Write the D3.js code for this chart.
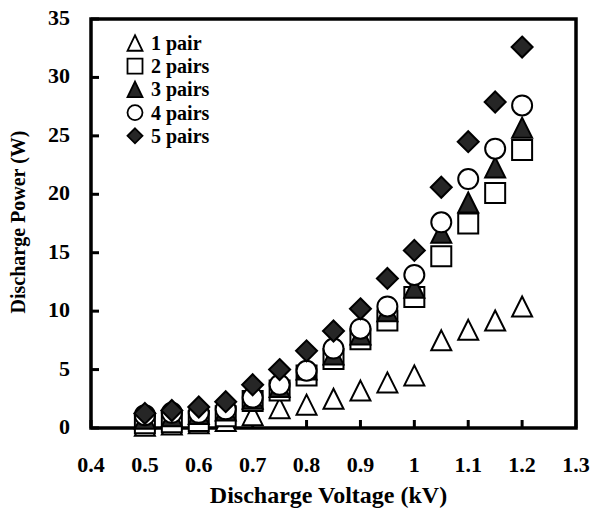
<!DOCTYPE html>
<html>
<head>
<meta charset="utf-8">
<script src="https://cdn.jsdelivr.net/npm/d3@7"></script>
<style>
  body { margin: 0; background: #fff; }
  text { font-family: "Liberation Serif", "Times New Roman", serif; font-weight: bold; }
</style>
</head>
<body>
<svg class="chart"></svg>
<script>
// voltage values (kV)
var voltage = [0.5, 0.55, 0.6, 0.65, 0.7, 0.75, 0.8, 0.85, 0.9, 0.95, 1.0, 1.05, 1.1, 1.15, 1.2];
// discharge power (W) per number of electrode pairs
var pair1 = [0.2, 0.3, 0.4, 0.6, 1.1, 1.7, 2.0, 2.5, 3.2, 3.9, 4.5, 7.5, 8.4, 9.2, 10.4];
var pair2 = [0.4, 0.5, 0.6, 1.0, 2.3, 3.2, 4.5, 5.9, 7.6, 9.2, 11.2, 14.7, 17.5, 20.1, 23.8];
var pair3 = [0.8, 1.0, 1.2, 1.5, 2.5, 3.5, 5.0, 6.3, 8.0, 10.0, 12.0, 16.7, 19.3, 22.3, 25.7];
var pair4 = [1.1, 1.3, 1.3, 1.6, 2.6, 3.7, 4.9, 6.8, 8.5, 10.4, 13.1, 17.6, 21.3, 23.9, 27.6];
var pair5 = [1.25, 1.5, 1.8, 2.25, 3.7, 5.0, 6.6, 8.3, 10.2, 12.8, 15.2, 20.6, 24.5, 27.9, 32.6];
var seriesNames = ["1 pair", "2 pairs", "3 pairs", "4 pairs", "5 pairs"];
var xTicks = [0.4, 0.5, 0.6, 0.7, 0.8, 0.9, 1, 1.1, 1.2, 1.3];
var yTicks = [0, 5, 10, 15, 20, 25, 30, 35];

var W = 593, H = 512;
var margin = {top: 19, right: 17, bottom: 84, left: 91},
    width = W - margin.left - margin.right,
    height = H - margin.top - margin.bottom;

var svg = d3.select(".chart").attr("width", W).attr("height", H);
var g = svg.append("g").attr("transform", "translate(" + margin.left + "," + margin.top + ")");

var x = d3.scaleLinear().domain([0.4, 1.3]).range([0, width]);
var y = d3.scaleLinear().domain([0, 35]).range([height, 0]);

// custom marker shapes, r = half width
function tri(r) {
  var h = r * 1.8;
  return "M0," + (-h / 2 - 1) + "L" + r + "," + (h / 2 + 1) + "L" + (-r) + "," + (h / 2 + 1) + "Z";
}
function sq(r) { return "M" + (-r) + "," + (-r) + "h" + (2 * r) + "v" + (2 * r) + "h" + (-2 * r) + "Z"; }
function circ(r) { return d3.arc()({innerRadius: 0, outerRadius: r, startAngle: 0, endAngle: 2 * Math.PI}); }
function dia(r) { return "M0," + (-r) + "L" + r + ",0L0," + r + "L" + (-r) + ",0Z"; }

var dark = "#262626";
var styles = [
  {shape: tri, fill: "#fff"},
  {shape: sq, fill: "#fff"},
  {shape: tri, fill: dark},
  {shape: circ, fill: "#fff"},
  {shape: dia, fill: dark}
];
var allSeries = [pair1, pair2, pair3, pair4, pair5];

// frame
g.append("rect").attr("width", width).attr("height", height)
  .attr("fill", "none").attr("stroke", "#000").attr("stroke-width", 3.5);

// ticks, inward
g.selectAll(".xt").data(xTicks).enter().append("line")
  .attr("x1", function(d) { return x(d); }).attr("x2", function(d) { return x(d); })
  .attr("y1", height).attr("y2", height - 8).attr("stroke", "#000").attr("stroke-width", 3);
g.selectAll(".yt").data(yTicks).enter().append("line")
  .attr("x1", 0).attr("x2", 8)
  .attr("y1", function(d) { return y(d); }).attr("y2", function(d) { return y(d); })
  .attr("stroke", "#000").attr("stroke-width", 3);

// tick labels
g.selectAll(".xl").data(xTicks).enter().append("text")
  .attr("x", function(d) { return x(d); }).attr("y", height + 44)
  .attr("text-anchor", "middle").attr("font-size", 22)
  .text(function(d) { return d; });
g.selectAll(".yl").data(yTicks).enter().append("text")
  .attr("x", -21).attr("y", function(d) { return y(d) + 6; })
  .attr("text-anchor", "end").attr("font-size", 22)
  .text(function(d) { return d; });

// axis titles
g.append("text").attr("x", width / 2 - 5).attr("y", height + 75)
  .attr("text-anchor", "middle").attr("font-size", 24).text("Discharge Voltage (kV)");
svg.append("text").attr("transform", "translate(25," + (margin.top + 203) + ") rotate(-90)")
  .attr("text-anchor", "middle").attr("font-size", 20).text("Discharge Power (W)");

// markers
allSeries.forEach(function(vals, i) {
  var st = styles[i];
  g.selectAll(".s" + i).data(vals).enter().append("path")
    .attr("transform", function(d, j) { return "translate(" + x(voltage[j]) + "," + y(d) + ")"; })
    .attr("d", st.shape(i === 4 ? 10.5 : 10))
    .attr("fill", st.fill).attr("stroke", "#000").attr("stroke-width", 2);
});

// legend
var leg = g.append("g").attr("transform", "translate(44,24)");
seriesNames.forEach(function(name, i) {
  var row = leg.append("g").attr("transform", "translate(0," + (i * 23.2) + ")");
  row.append("path").attr("d", styles[i].shape(7.5))
    .attr("fill", styles[i].fill).attr("stroke", "#000").attr("stroke-width", 1.8);
  row.append("text").attr("x", 16).attr("y", 7).attr("font-size", 20).text(name);
});
</script>
</body>
</html>
